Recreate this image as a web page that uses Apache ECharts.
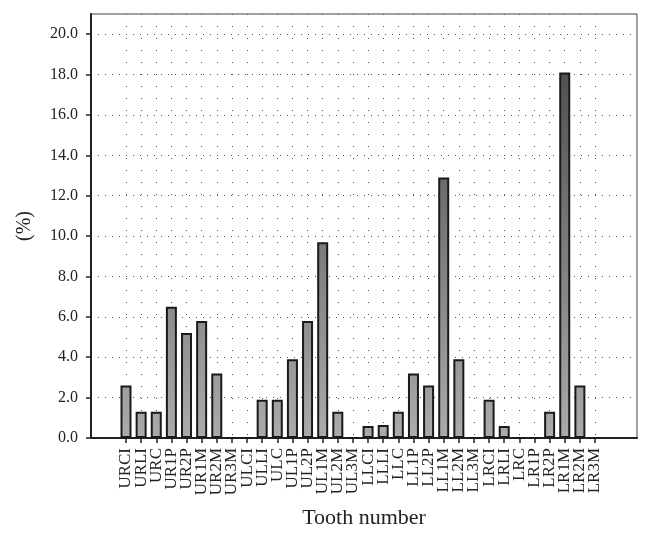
<!DOCTYPE html>
<html>
<head>
<meta charset="utf-8">
<script src="https://cdn.jsdelivr.net/npm/echarts@6/dist/echarts.min.js"></script>
<style>html,body{margin:0;padding:0;background:#fff}#c{width:651px;height:537px}</style>
</head>
<body>
<div id="c"></div>
<script>
var categories = ['URCI','URLI','URC','UR1P','UR2P','UR1M','UR2M','UR3M',
  'ULCI','ULLI','ULC','UL1P','UL2P','UL1M','UL2M','UL3M',
  'LLCI','LLLI','LLC','LL1P','LL2P','LL1M','LL2M','LL3M',
  'LRCI','LRLI','LRC','LR1P','LR2P','LR1M','LR2M','LR3M'];
var percentValues = [2.6,1.3,1.3,6.5,5.2,5.8,3.2,0,
  0,1.9,1.9,3.9,5.8,9.7,1.3,0,
  0.6,0.65,1.3,3.2,2.6,12.9,3.9,0,
  1.9,0.6,0,0,1.3,18.1,2.6,0];
var yTickValues = [0,2,4,6,8,10,12,14,16,18,20];
var yName = '(%)';
var xName = 'Tooth number';

var serif = '"Liberation Serif", "DejaVu Serif", serif';
var chart = echarts.init(document.getElementById('c'), null, {renderer: 'canvas'});
var option = {
  animation: false,
  backgroundColor: '#fff',
  grid: [
    {left: 126, right: 56, top: 14, bottom: 99},
    {left: 91, right: 14, top: 14, bottom: 99, show: true, borderColor: '#444', borderWidth: 1, backgroundColor: 'transparent'}
  ],
  xAxis: [
    {
      type: 'category', gridIndex: 0, data: categories, boundaryGap: false,
      axisLine: {show: false},
      axisTick: {show: true, length: 5, lineStyle: {color: '#222', width: 1.5}},
      axisLabel: {rotate: 90, interval: 0, margin: 10, fontFamily: serif, fontSize: 17, color: '#222'},
      splitLine: {show: true, lineStyle: {type: [1, 11], color: '#555', width: 1}}
    },
    {
      type: 'value', gridIndex: 1, min: 0, max: 1,
      axisLine: {show: true, lineStyle: {color: '#222', width: 2}},
      axisTick: {show: false}, axisLabel: {show: false}, splitLine: {show: false},
      name: xName, nameLocation: 'middle', nameGap: 69,
      nameTextStyle: {fontFamily: serif, fontSize: 22, color: '#222'}
    }
  ],
  yAxis: [
    {type: 'value', gridIndex: 0, min: 0, max: 21, show: false, splitLine: {show: false}},
    {
      type: 'value', gridIndex: 1, min: 0, max: 21, interval: 2,
      axisLine: {show: true, lineStyle: {color: '#222', width: 2}},
      axisTick: {show: true, length: 5, customValues: yTickValues, lineStyle: {color: '#222', width: 1.5}},
      axisLabel: {customValues: yTickValues, margin: 13, fontFamily: serif, fontSize: 16, color: '#222',
        formatter: function (v) { return Number(v).toFixed(1); }},
      splitLine: {show: true, lineStyle: {type: [1, 6], color: '#555', width: 1}},
      name: yName, nameLocation: 'middle', nameGap: 56, nameRotate: 90,
      nameTextStyle: {fontFamily: serif, fontSize: 20, color: '#222'}
    }
  ],
  series: [{
    type: 'bar', xAxisIndex: 0, yAxisIndex: 0, data: percentValues, barWidth: 11,
    itemStyle: {
      color: new echarts.graphic.LinearGradient(0, 438, 0, 35, [
        {offset: 0, color: '#ababab'}, {offset: 1, color: '#474747'}
      ], true),
      borderColor: '#1a1a1a', borderWidth: 2
    }
  }]
};
chart.setOption(option);
</script>
</body>
</html>
